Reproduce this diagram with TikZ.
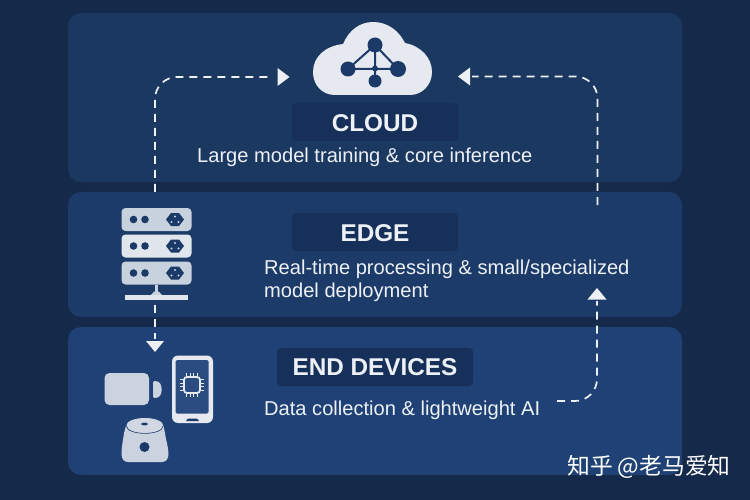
\documentclass[tikz,border=0pt]{standalone}
\usepackage{fontspec}
\setmainfont{Liberation Sans}
\newfontfamily\cjkf{Noto Sans CJK SC}
\usetikzlibrary{arrows.meta,calc}
\definecolor{bgd}{HTML}{15294A}
\definecolor{pa}{HTML}{1B3860}
\definecolor{pb}{HTML}{1D3B68}
\definecolor{pc}{HTML}{1F4175}
\definecolor{lab}{HTML}{16305A}
\definecolor{ink}{HTML}{EDF1F6}
\definecolor{icon}{HTML}{E6EAF0}
\definecolor{ictwo}{HTML}{C8D1DE}
\definecolor{dk}{HTML}{1B3A68}
\definecolor{screen}{HTML}{2A4C80}
\tikzset{
 panel/.style={rounded corners=13pt,minimum width=614pt,anchor=north west,inner sep=0pt,outer sep=0pt},
 labelbox/.style={rounded corners=4pt,minimum height=38pt,inner sep=0pt,text=ink,font=\fontsize{24.3}{28}\selectfont\bfseries},
 desc/.style={text=ink,font=\fontsize{20.1}{23}\selectfont,anchor=west,inner sep=0pt,align=left},
 flow/.style={draw=ink,line width=1.7pt,dash pattern=on 8pt off 6pt,rounded corners=22pt},
 tipbox/.style={fill=ink,draw=none},
 rack/.style={rounded corners=4pt,minimum width=70pt,minimum height=23pt,inner sep=0pt,fill=ictwo},
}
\begin{document}
\begin{tikzpicture}[x=1pt,y=-1pt]
\useasboundingbox (0,0) rectangle (750,500);
\fill[bgd] (0,0) rectangle (750,500);
\node[panel,fill=pa,minimum height=169pt] (cloudp) at (68,13) {};
\node[panel,fill=pb,minimum height=125pt] (edgep) at (68,192) {};
\node[panel,fill=pc,minimum height=148pt] (endp) at (68,327) {};
% labels
\fill[lab,rounded corners=4pt] (292,103) rectangle (458,141);
\fill[lab,rounded corners=4pt] (292,213) rectangle (458,251);
\fill[lab,rounded corners=4pt] (277,348) rectangle (473,386);
\node[labelbox] (cl) at (375,123) {CLOUD};
\node[labelbox] (el) at (375,233) {EDGE};
\node[labelbox] (dl) at (375,367.5) {END DEVICES};
\node[desc] (cd) at (197,157.5) {Large model training \& core inference};
\node[desc] (ed) at (264,280.5) {Real-time processing \& small/specialized\\model deployment};
\node[desc] (dd) at (264,410) {Data collection \& lightweight AI};
% cloud icon
\fill[icon] (335,95) .. controls (322,95) and (313,85) .. (313,72)
 .. controls (313,57) and (325,46) .. (343,44)
 .. controls (349,30) and (360,22) .. (373,22)
 .. controls (388,22) and (399,31) .. (405,43)
 .. controls (421,46) and (432,58) .. (432,72)
 .. controls (432,85) and (422,95) .. (410,95) -- cycle;
\coordinate (na) at (375,45);
\coordinate (nb) at (348,69);
\coordinate (nc) at (375,68.5);
\coordinate (nd) at (398,69);
\coordinate (ne) at (375,81);
\draw[dk,line width=2pt] (nb)--(na)--(nd) (nb)--(nd) (na)--(ne);
\fill[dk] (na) circle (7.5pt) (nb) circle (7.5pt) (nd) circle (8pt) (ne) circle (6.5pt) (nc) circle (3pt);
% servers
\foreach \y/\c in {219.5/ictwo,246/icon!85!ictwo,273/ictwo}{
 \node[rack,fill=\c] at (156.5,\y) {};
 \fill[dk] (133.5,\y) circle (3.8pt) (145,\y) circle (3.8pt);
 \fill[dk] (166,\y) -- (171,\y-6.5) -- (179,\y-6.5) -- (184,\y) -- (179,\y+6.5) -- (171,\y+6.5) -- cycle;
 \fill[ictwo] (175,\y-3) circle (1.2pt) (171.5,\y+2.5) circle (1.2pt) (178.5,\y+2.5) circle (1.2pt);
}
\fill[ictwo] (155,285) rectangle (158,292);
\fill[ictwo] (150,296) .. controls (153,293) and (154,291) .. (155.5,291) -- (157.5,291) .. controls (159,291) and (160,293) .. (163,296) -- cycle;
\fill[icon!80!ictwo] (125,295) rectangle (188,299.5);
\coordinate (srvtop) at (155,192);
\coordinate (srvbot) at (155,305);
% camera
\fill[ictwo!90!icon,rounded corners=5pt] (104.5,373) rectangle (149,405);
\fill[ictwo!90!icon] (153,383) .. controls (153,381.5) and (154,381) .. (155,381)
 .. controls (160,381) and (161.7,385) .. (161.7,389.5)
 .. controls (161.7,394) and (160,398) .. (155,398)
 .. controls (154,398) and (153,397.5) .. (153,396) -- cycle;
% phone
\fill[icon,rounded corners=6pt] (172,355.5) rectangle (213,423);
\fill[screen,rounded corners=1.5pt] (175.5,360) rectangle (208.5,413.5);
\fill[dk] (186,421) -- (199,421) -- (197,418.5) -- (188,418.5) -- cycle;
\draw[icon,line width=1.8pt,rounded corners=3pt] (184,377) rectangle (200,393);
\foreach \t in {0,1,2,3}{
 \draw[icon,line width=1pt] (186.3+\t*3.8,373) -- (186.3+\t*3.8,377) (186.3+\t*3.8,393) -- (186.3+\t*3.8,397)
  (180,379.3+\t*3.8) -- (184,379.3+\t*3.8) (200,379.3+\t*3.8) -- (204,379.3+\t*3.8);
}
% speaker
\fill[ictwo!90!icon] (126,426) -- (163.5,426) -- (165,433)
 .. controls (166,441) and (168.5,447) .. (168.5,454) .. controls (168.5,459) and (166,462) .. (162,462)
 -- (128,462) .. controls (124,462) and (121.5,459) .. (121.5,454) .. controls (121.5,447) and (123,441) .. (124,433) -- cycle;
\fill[ictwo!70!icon] (144.8,425.5) ellipse (18.5pt and 7.5pt);
\draw[dk,line width=.6pt] (126.3,425.5) .. controls (126.3,436) and (163.3,436) .. (163.3,425.5);
\fill[dk] (144.5,424) ellipse (3.5pt and 1.4pt);
\fill[dk] (144.5,447) circle (5pt);
% connectors
\draw[flow] (srvtop) -- (155,77) -- (270,77) coordinate (t1);
\fill[tipbox] (277.5,68) -- (289.5,77) -- (277.5,86) -- cycle;
\draw[flow,rounded corners=0pt] (srvbot) -- (155,339);
\fill[tipbox] (146,341) -- (164,341) -- (155,352) -- cycle;
\draw[flow] (557,401) -- (597,401) -- (597,301);
\fill[tipbox] (587.5,299.5) -- (597,288) -- (606.5,299.5) -- cycle;
\coordinate (rtop) at (597.5,205);
\draw[flow] (rtop) -- (597.5,76.5) -- (472,76.5);
\fill[tipbox] (470,67.5) -- (458,76.5) -- (470,85.5) -- cycle;
\node[text=white,font=\cjkf\fontsize{22.8}{24}\selectfont,anchor=west,inner sep=0pt] (wm) at (567,467) {知乎 @老马爱知};
\end{tikzpicture}
\end{document}
